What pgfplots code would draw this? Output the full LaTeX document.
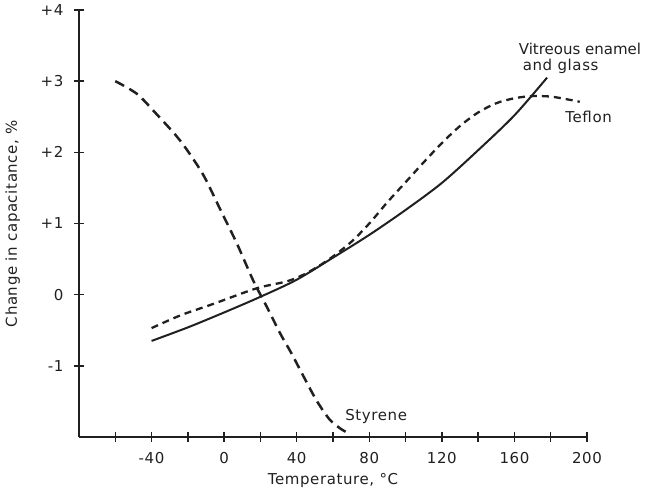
\documentclass[border=0pt]{standalone}
\usepackage{pgfplots}
\pgfplotsset{compat=1.18}
\usepackage{fontspec}
\setmainfont{DejaVu Sans}[LetterSpace=4]
\newcommand{\fs}{\fontsize{15pt}{18pt}\selectfont}
\definecolor{ink}{HTML}{202020}
\begin{document}
\begin{tikzpicture}[font=\fs]
\begin{axis}[
  scale only axis, width=508pt, height=427pt,
  xmin=-80, xmax=200, ymin=-2, ymax=4,
  axis x line=bottom, axis y line=left,
  axis line style={line width=2pt, -, draw=ink},
  clip=false,
  xtick={-60,-40,-20,0,20,40,60,80,100,120,140,160,180,200},
  xticklabels={,-40,,0,,40,,80,,120,,160,,200},
  ytick={-1,0,1,2,3,4},
  yticklabels={-1,0,+1,+2,+3,+4},
  tick align=center,
  major tick length=10pt,
  tick style={line width=1.5pt, draw=ink},
  /pgf/number format/assume math mode=true,
  every tick label/.append style={font=\fs, text=ink},
  yticklabel style={xshift=-7pt},
  xticklabel style={yshift=-7pt},
  xlabel={Temperature, °C},
  ylabel={Change in capacitance, \%},
  every axis label/.append style={font=\fs, text=ink},
  xlabel style={yshift=-3pt},
  ylabel style={yshift=14pt},
]
% Styrene
\addplot[ink, line width=2.5pt, dash pattern=on 10pt off 6pt, smooth, tension=0.5] coordinates {
(-60,3.0) (-48,2.82) (-37,2.53) (-26,2.22) (-19,1.98) (-11,1.66) (-2,1.19)
(7,0.72) (16,0.20) (23.5,-0.17) (31,-0.55) (37,-0.82) (44,-1.16) (51,-1.49)
(58,-1.75) (64,-1.88) (68,-1.94)
};
% Vitreous enamel and glass
\addplot[ink, line width=2pt, smooth, tension=0.5] coordinates {
(-40,-0.65) (-20,-0.46) (0,-0.25) (20,-0.03) (40,0.21) (60,0.52) (80,0.84)
(100,1.19) (120,1.57) (140,2.03) (160,2.52) (178,3.05)
};
% Teflon
\addplot[ink, line width=2.3pt, dash pattern=on 7pt off 5pt, smooth, tension=0.5] coordinates {
(-40,-0.47) (-24,-0.29) (-6,-0.13) (18,0.09) (35,0.19) (46,0.31) (58,0.50)
(70,0.74) (80,1.00) (90,1.30) (100,1.58) (110,1.86) (120,2.13) (130,2.37)
(140,2.56) (150,2.69) (160,2.76) (170,2.79) (181,2.78) (196,2.71)
};
\node[anchor=west, text=ink, inner sep=0pt] at (axis cs:162.3,3.46) {\addfontfeature{LetterSpace=0}Vitreous enamel};
\node[anchor=west, text=ink, inner sep=0pt] at (axis cs:164.5,3.21) {and glass};
\node[anchor=west, text=ink, inner sep=0pt] at (axis cs:188,2.50) {Teflon};
\node[anchor=west, text=ink, inner sep=0pt] at (axis cs:66.7,-1.71) {Styrene};
\coordinate (bbA) at (rel axis cs:-0.1555,-0.1405);
\coordinate (bbB) at (rel axis cs:1.1181,1.0234);
\end{axis}
\pgfresetboundingbox
\path[use as bounding box] (bbA) rectangle (bbB);
\end{tikzpicture}
\end{document}
